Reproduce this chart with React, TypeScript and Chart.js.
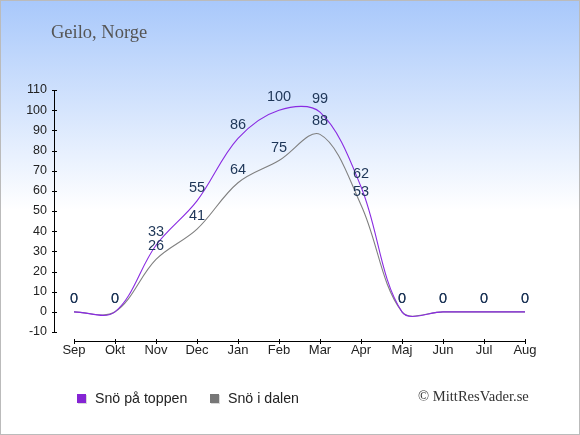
import React, { useEffect, useRef } from "react";
import { Chart, registerables } from "chart.js";

Chart.register(...registerables);

const months = ["Sep", "Okt", "Nov", "Dec", "Jan", "Feb", "Mar", "Apr", "Maj", "Jun", "Jul", "Aug"];
const snowTop = [0, 0, 33, 55, 86, 100, 99, 62, 0, 0, 0, 0];
const snowValley = [0, 0, 26, 41, 64, 75, 88, 53, 0, 0, 0, 0];
const yTicksMin = -10;
const yTicksMax = 110;
const yStep = 10;
const titleText = "Geilo, Norge";
const legendLabels = ["Snö på toppen", "Snö i dalen"];
const copyrightText = "© MittResVader.se";

const SANS = "'Liberation Sans', Arial, sans-serif";
const SERIF = "'Liberation Serif', 'Times New Roman', serif";

const decorPlugin = {
  id: "decor",
  beforeDraw(chart: any) {
    const { ctx, width, height } = chart;
    ctx.save();
    const g = ctx.createLinearGradient(0, 0, 0, 210);
    g.addColorStop(0, "#a8c8fb");
    g.addColorStop(1, "#ffffff");
    ctx.fillStyle = "#ffffff";
    ctx.fillRect(0, 0, width, height);
    ctx.fillStyle = g;
    ctx.fillRect(0, 0, width, 210);
    // title
    ctx.fillStyle = "#555555";
    ctx.font = `18.5px ${SERIF}`;
    ctx.textBaseline = "alphabetic";
    ctx.textAlign = "left";
    ctx.fillText(titleText, 51, 38);
    ctx.restore();
  },
  afterDraw(chart: any) {
    const { ctx, width, height } = chart;
    const xs = chart.scales.x;
    const ys = chart.scales.y;
    ctx.save();
    ctx.strokeStyle = "#000000";
    ctx.lineWidth = 1;
    // y axis line
    const yTop = ys.getPixelForValue(yTicksMax);
    const yBot = ys.getPixelForValue(yTicksMin);
    ctx.beginPath();
    ctx.moveTo(54.5, yTop);
    ctx.lineTo(54.5, yBot);
    ys.ticks.forEach((t: any) => {
      const py = Math.round(ys.getPixelForValue(t.value)) + 0.5;
      ctx.moveTo(52, py);
      ctx.lineTo(57, py);
    });
    // x axis line
    const xl = xs.getPixelForValue(0);
    const xr = xs.getPixelForValue(months.length - 1);
    ctx.moveTo(xl, 341.5);
    ctx.lineTo(xr, 341.5);
    months.forEach((_, i) => {
      const px = Math.round(xs.getPixelForValue(i)) + 0.5;
      ctx.moveTo(px, 339);
      ctx.lineTo(px, 344);
    });
    ctx.stroke();

    // legend
    const colors = ["#8524d4", "#777777"];
    const lx = [77, 210];
    ctx.font = `14.2px ${SANS}`;
    ctx.textBaseline = "alphabetic";
    ctx.textAlign = "left";
    legendLabels.forEach((lbl, i) => {
      ctx.fillStyle = "rgba(0,0,0,0.15)";
      ctx.fillRect(lx[i] + 1, 395, 9, 9);
      ctx.fillStyle = colors[i];
      ctx.fillRect(lx[i], 394, 9, 9);
      ctx.fillStyle = "#222222";
      ctx.fillText(lbl, lx[i] + 18, 403);
    });

    // copyright
    ctx.font = `14.6px ${SERIF}`;
    ctx.fillStyle = "#333333";
    ctx.fillText(copyrightText, 418, 401);

    // border
    ctx.strokeStyle = "#bbbbbb";
    ctx.strokeRect(0.5, 0.5, width - 1, height - 1);
    ctx.restore();
  },
  afterDatasetsDraw(chart: any) {
    const { ctx } = chart;
    ctx.save();
    ctx.font = `14.5px ${SANS}`;
    ctx.fillStyle = "#1d3557";
    ctx.textAlign = "center";
    ctx.textBaseline = "alphabetic";
    chart.data.datasets.forEach((ds: any, di: number) => {
      const meta = chart.getDatasetMeta(di);
      meta.data.forEach((pt: any, i: number) => {
        ctx.fillText(String(ds.data[i]), pt.x, pt.y - 9);
      });
    });
    ctx.restore();
  },
};

export default function App() {
  const ref = useRef<HTMLCanvasElement | null>(null);
  useEffect(() => {
    document.body.style.margin = "0";
    if (!ref.current) return;
    const chart = new Chart(ref.current, {
      type: "line",
      data: {
        labels: months,
        datasets: [
          {
            label: legendLabels[0],
            data: snowTop,
            borderColor: "#8a2be2",
            borderWidth: 1.1,
            pointRadius: 0,
            tension: 0.35,
            fill: false,
          },
          {
            label: legendLabels[1],
            data: snowValley,
            borderColor: "#808080",
            borderWidth: 1.1,
            pointRadius: 0,
            tension: 0.35,
            fill: false,
          },
        ],
      },
      options: {
        responsive: false,
        animation: false,
        devicePixelRatio: 1,
        layout: { padding: { left: 0, right: 55, top: 90, bottom: 0 } },
        plugins: {
          legend: { display: false },
          title: { display: false },
          tooltip: { enabled: false },
        },
        scales: {
          x: {
            offset: false,
            grid: { display: false, drawTicks: false },
            border: { display: false },
            ticks: {
              color: "#222222",
              font: { family: SANS, size: 13 },
              padding: 11,
              maxRotation: 0,
              autoSkip: false,
            },
            afterFit: (s: any) => {
              s.height = 103;
            },
          },
          y: {
            min: yTicksMin,
            max: yTicksMax,
            grid: { display: false, drawTicks: false },
            border: { display: false },
            ticks: {
              stepSize: yStep,
              color: "#222222",
              font: { family: SANS, size: 12.5 },
              padding: 27,
            },
            afterFit: (s: any) => {
              s.width = 74;
            },
          },
        },
      },
      plugins: [decorPlugin],
    });
    return () => chart.destroy();
  }, []);
  return (
    <div style={{ width: 580, height: 435 }}>
      <canvas ref={ref} width={580} height={435} style={{ display: "block" }} />
    </div>
  );
}
